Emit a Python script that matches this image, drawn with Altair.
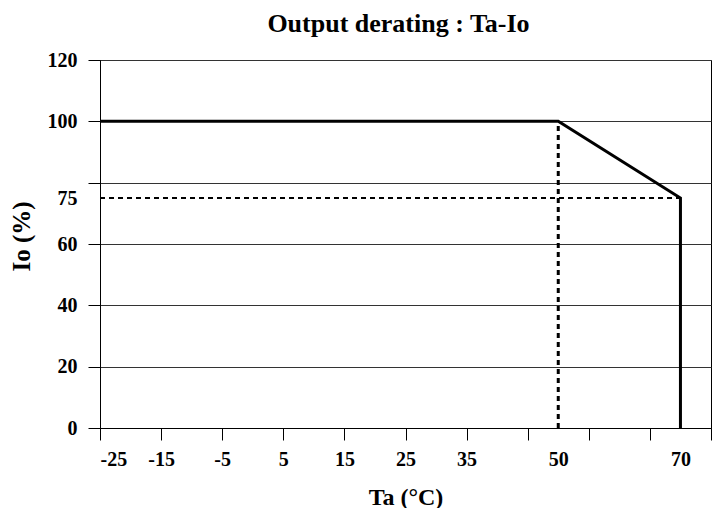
import altair as alt
import pandas as pd

# Derating curve
curve_ta = [-25, 50, 70, 70]
curve_io = [100, 100, 75, 0]

# Reference (dashed) lines
vline_ta = [50]
vline_io0 = [0]
vline_io1 = [100]
hline_io = [75]
hline_ta0 = [-25]
hline_ta1 = [70]

# Axis ticks / labels
x_tick_vals = [-25, -15, -5, 5, 15, 25, 35, 45, 55, 65, 75]
x_label_vals = [-25, -15, -5, 5, 15, 25, 35, 50, 70]
y_grid_vals = [0, 20, 40, 60, 80, 100, 120]
y_label_vals = [0, 20, 40, 60, 75, 100, 120]

FONT = "Liberation Serif"

x_all = sorted(set(x_tick_vals) | set(x_label_vals))
y_all = sorted(set(y_grid_vals) | set(y_label_vals))

x_lab_test = " || ".join(f"datum.value == {v}" for v in x_label_vals)
x_tick_test = " || ".join(f"datum.value == {v}" for v in x_tick_vals)
y_lab_test = " || ".join(f"datum.value == {v}" for v in y_label_vals)
y_grid_test = " || ".join(f"datum.value == {v}" for v in y_grid_vals)

curve = pd.DataFrame({"ta": curve_ta, "io": curve_io, "idx": list(range(len(curve_ta)))})
vline = pd.DataFrame({"ta": vline_ta, "io0": vline_io0, "io1": vline_io1})
hline = pd.DataFrame({"io": hline_io, "ta0": hline_ta0, "ta1": hline_ta1})

x_scale = alt.Scale(domain=[-25, 75], nice=False, zero=False)
y_scale = alt.Scale(domain=[0, 120], nice=False, zero=False)

x_axis = alt.Axis(
    values=x_all,
    labelExpr=f"({x_lab_test}) ? ('' + datum.value) : ''",
    tickColor={"condition": {"test": x_tick_test, "value": "black"}, "value": "transparent"},
    grid=False,
    tickSize=12,
    labelPadding=9,
    title="Ta (°C)",
    titleY=76,
    titleBaseline="alphabetic",
    labelFontSize=20,
    titleFontSize=24,
    labelFont=FONT,
    titleFont=FONT,
    labelFontWeight="bold",
    titleFontWeight="bold",
    labelColor="black",
    titleColor="black",
    domainColor="black",
)
y_axis = alt.Axis(
    values=y_all,
    labelExpr=f"({y_lab_test}) ? ('' + datum.value) : ''",
    tickColor={"condition": {"test": y_grid_test, "value": "black"}, "value": "transparent"},
    gridColor={"condition": {"test": y_grid_test, "value": "#333333"}, "value": "transparent"},
    grid=True,
    gridWidth=1,
    tickSize=12,
    labelPadding=11,
    title="Io (%)",
    titleX=-79,
    titleY=176,
    titleAngle=270,
    titleBaseline="middle",
    titleAlign="center",
    labelFontSize=20,
    titleFontSize=25,
    labelFont=FONT,
    titleFont=FONT,
    labelFontWeight="bold",
    titleFontWeight="bold",
    labelColor="black",
    titleColor="black",
    domainColor="black",
)

line = alt.Chart(curve).mark_line(color="black", strokeWidth=3).encode(
    x=alt.X("ta:Q", scale=x_scale, axis=x_axis),
    y=alt.Y("io:Q", scale=y_scale, axis=y_axis),
    order="idx:Q",
)

vrule = alt.Chart(vline).mark_rule(color="black", strokeWidth=3, strokeDash=[5, 4]).encode(
    x="ta:Q", y="io0:Q", y2="io1:Q"
)
hrule = alt.Chart(hline).mark_rule(color="black", strokeWidth=2, strokeDash=[5, 4]).encode(
    y="io:Q", x="ta0:Q", x2="ta1:Q"
)

chart = (
    alt.layer(line, vrule, hrule)
    .properties(
        width=611,
        height=368,
        title=alt.TitleParams(
            "Output derating : Ta-Io",
            fontSize=26,
            font=FONT,
            fontWeight="bold",
            anchor="middle",
            frame="group",
            baseline="alphabetic",
            offset=0,
            dy=8,
            dx=-7,
            color="black",
        ),
        autosize=alt.AutoSizeParams(type="none"),
        padding={"left": 92, "top": 52, "right": 1, "bottom": 80},
        background="white",
    )
    .configure_view(stroke="black", strokeWidth=1)
)

chart.save("out.html", embed_options={"renderer": "svg", "actions": False})
